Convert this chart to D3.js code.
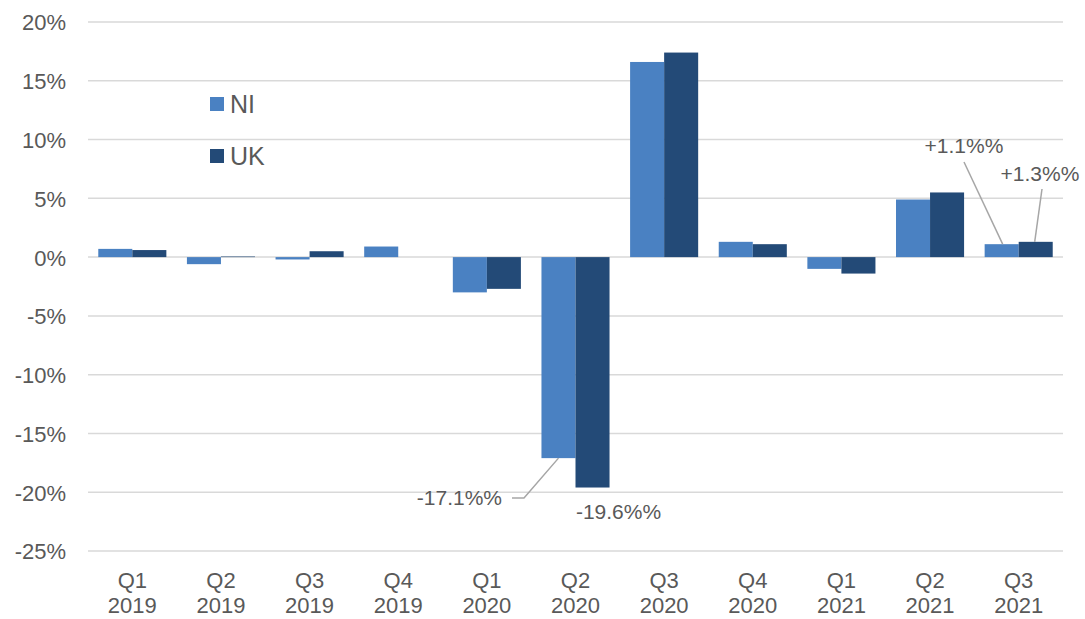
<!DOCTYPE html>
<html>
<head>
<meta charset="utf-8">
<script src="https://cdn.jsdelivr.net/npm/d3@7"></script>
<style>
  html, body { margin: 0; padding: 0; background: #fff; }
  svg { display: block; font-family: "Liberation Sans", Arial, sans-serif; }
</style>
</head>
<body>
<svg id="chart" width="1085" height="619"></svg>
<script>
const quarters = ["Q1", "Q2", "Q3", "Q4", "Q1", "Q2", "Q3", "Q4", "Q1", "Q2", "Q3"];
const years = ["2019", "2019", "2019", "2019", "2020", "2020", "2020", "2020", "2021", "2021", "2021"];
const seriesNames = ["NI", "UK"];
const niValues = [0.7, -0.6, -0.2, 0.9, -3.0, -17.1, 16.6, 1.3, -1.0, 4.9, 1.1];
const ukValues = [0.6, 0.05, 0.5, 0.0, -2.7, -19.6, 17.4, 1.1, -1.4, 5.5, 1.3];
const yTicks = [20, 15, 10, 5, 0, -5, -10, -15, -20, -25];
const annotations = [
  { series: "NI", index: 5, text: "-17.1%%" },
  { series: "UK", index: 5, text: "-19.6%%" },
  { series: "NI", index: 10, text: "+1.1%%" },
  { series: "UK", index: 10, text: "+1.3%%" }
];
const colors = { NI: "#4a81c2", UK: "#234a77" };

(function () {
const svg = d3.select("#chart");
const mLeft = 88, mRight = 1063, mTop = 22, mBottom = 551;
const cats = quarters.map((q, i) => i);
const x0 = d3.scaleBand().domain(cats).range([mLeft, mRight]).padding(0);
const gap = x0.bandwidth() * 0.116;
const x1 = d3.scaleBand().domain(seriesNames).range([gap, x0.bandwidth() - gap]).padding(0);
const y = d3.scaleLinear().domain([-25, 20]).range([mBottom, mTop]);
const textColor = "#595959";

// gridlines
svg.append("g").selectAll("line").data(yTicks).join("line")
  .attr("x1", mLeft).attr("x2", mRight)
  .attr("y1", d => y(d)).attr("y2", d => y(d))
  .attr("stroke", "#d9d9d9").attr("stroke-width", 1.5);

// y axis labels
const yAxis = d3.axisLeft(y).tickValues(yTicks).tickFormat(d => d + "%").tickSize(0).tickPadding(0);
const ya = svg.append("g").attr("transform", "translate(66,0)").call(yAxis);
ya.select(".domain").remove();
ya.selectAll("text").attr("font-size", 22).attr("fill", textColor)
  .attr("font-family", "Liberation Sans, Arial, sans-serif").attr("dy", "0.36em");

// bars
const data = cats.map(i => ({ i, NI: niValues[i], UK: ukValues[i] }));
const groups = svg.append("g").selectAll("g").data(data).join("g")
  .attr("transform", d => `translate(${x0(d.i)},0)`);
groups.selectAll("rect").data(d => seriesNames.map(s => ({ s, v: d[s] }))).join("rect")
  .attr("x", d => x1(d.s))
  .attr("width", x1.bandwidth())
  .attr("y", d => y(Math.max(0, d.v)))
  .attr("height", d => Math.abs(y(d.v) - y(0)))
  .attr("fill", d => colors[d.s]);

// category labels
const xa = svg.append("g");
xa.selectAll("text.q").data(cats).join("text").attr("class", "q")
  .attr("x", i => x0(i) + x0.bandwidth() / 2).attr("y", 588)
  .attr("text-anchor", "middle").attr("font-size", 22).attr("fill", textColor)
  .text(i => quarters[i]);
xa.selectAll("text.yr").data(cats).join("text").attr("class", "yr")
  .attr("x", i => x0(i) + x0.bandwidth() / 2).attr("y", 613)
  .attr("text-anchor", "middle").attr("font-size", 22).attr("fill", textColor)
  .text(i => years[i]);

// legend
const legend = svg.append("g").attr("transform", "translate(210,0)");
const legY = [104, 156];
seriesNames.forEach((s, k) => {
  legend.append("rect").attr("x", 0).attr("y", legY[k] - 7).attr("width", 14).attr("height", 14).attr("fill", colors[s]);
  legend.append("text").attr("x", 20).attr("y", legY[k] + 9).attr("font-size", 25).attr("fill", textColor).text(s);
});

// annotations
const barCx = (a) => x0(a.index) + x1(a.series) + x1.bandwidth() / 2;
const ann = svg.append("g");
const vOf = a => (a.series === "NI" ? niValues : ukValues)[a.index];
{
  const a = annotations[0];
  const bx = barCx(a), by = y(vOf(a));
  ann.append("polyline").attr("points", `${512},${498} ${524},${498} ${bx},${by}`)
    .attr("fill", "none").attr("stroke", "#a6a6a6").attr("stroke-width", 1.5);
  ann.append("text").attr("x", 502).attr("y", 505).attr("text-anchor", "end")
    .attr("font-size", 21).attr("fill", textColor).text(a.text);
}
{
  const a = annotations[1];
  ann.append("text").attr("x", barCx(a) + 26).attr("y", y(vOf(a)) + 31).attr("text-anchor", "middle")
    .attr("font-size", 21).attr("fill", textColor).text(a.text);
}
{
  const a = annotations[2];
  const by = y(vOf(a));
  ann.append("line").attr("x1", 964).attr("y1", 162).attr("x2", barCx(a) + 1).attr("y2", by)
    .attr("stroke", "#a6a6a6").attr("stroke-width", 1.5);
  ann.append("text").attr("x", 964).attr("y", 153).attr("text-anchor", "middle")
    .attr("font-size", 21).attr("fill", textColor).text(a.text);
}
{
  const a = annotations[3];
  const by = y(vOf(a));
  ann.append("line").attr("x1", 1042).attr("y1", 189).attr("x2", barCx(a) - 1).attr("y2", by)
    .attr("stroke", "#a6a6a6").attr("stroke-width", 1.5);
  ann.append("text").attr("x", 1040).attr("y", 181).attr("text-anchor", "middle")
    .attr("font-size", 21).attr("fill", textColor).text(a.text);
}
})();
</script>
</body>
</html>
